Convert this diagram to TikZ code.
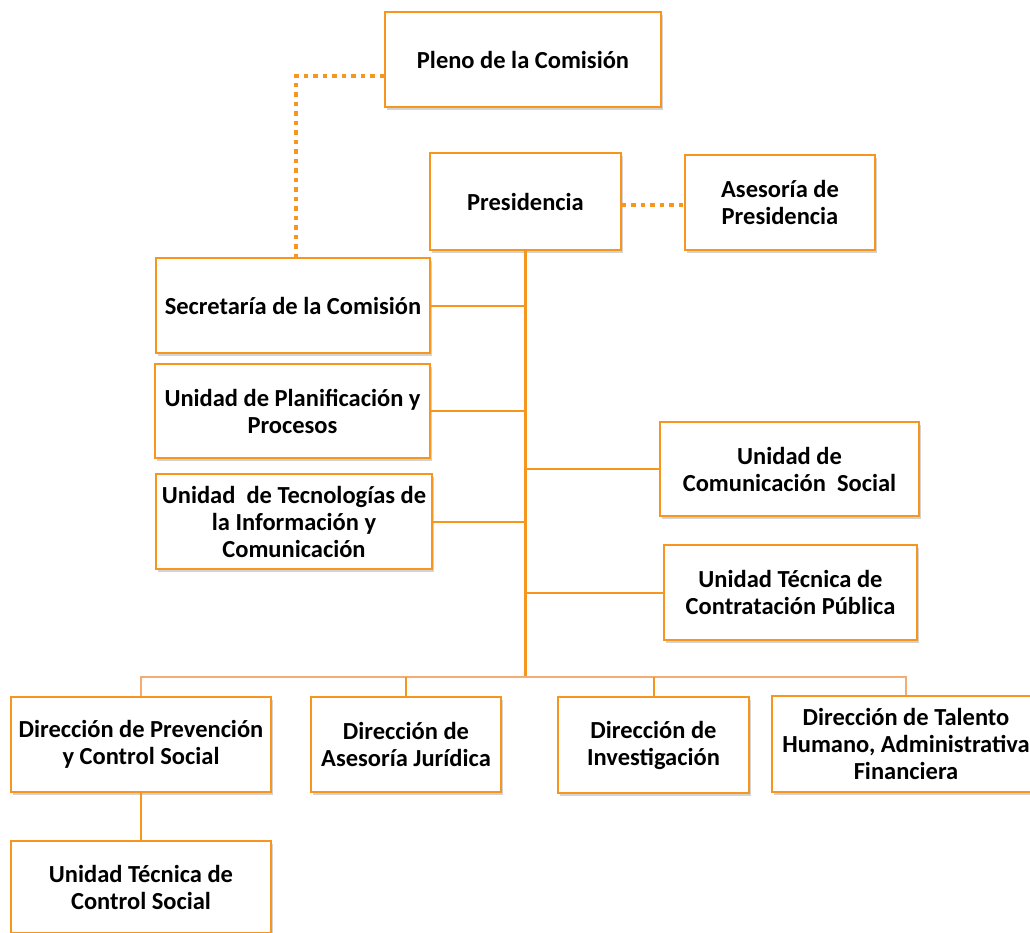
\documentclass[tikz,border=0pt]{standalone}
\usepackage{fontspec}
\setmainfont{Carlito}
\usetikzlibrary{shadows}
\definecolor{orgline}{RGB}{247,150,30}
\definecolor{orgbus}{RGB}{245,172,115}
\begin{document}
\begin{tikzpicture}[x=1pt, y=-1pt,
  unit/.style={draw=orgline, line width=1.6pt, fill=white, rectangle, align=center, inner sep=1pt,
    font=\fontsize{24.5}{27}\selectfont\bfseries,
    drop shadow={opacity=0.35, shadow xshift=2pt, shadow yshift=-2.5pt}},
  link/.style={draw=orgline, line width=2pt},
  trunk/.style={draw=orgline, line width=2.8pt},
  advice/.style={draw=orgline, line width=4pt, dash pattern=on 4.5pt off 5pt}]
  \useasboundingbox (0,0) rectangle (1030,932);

  % top of the chart
  \node[unit, minimum width=276pt, minimum height=95pt] (pleno) at (523,59.5) {Pleno de la Comisión};
  \node[unit, minimum width=191pt, minimum height=97pt] (pres) at (525.5,201.5) {Presidencia};
  \node[unit, minimum width=190pt, minimum height=95pt] (asepres) at (780,202.5) {Asesoría de\\Presidencia};

  % units beside the trunk
  \node[unit, minimum width=274pt, minimum height=95pt] (secre) at (293,305.5) {Secretaría de la Comisión};
  \node[unit, minimum width=275pt, minimum height=94pt] (plani) at (292.5,411) {Unidad de Planificación y\\Procesos};
  \node[unit, minimum width=276pt, minimum height=95pt] (tic) at (294,521.5) {Unidad\ \ de Tecnologías de\\la Información y\\Comunicación};
  \node[unit, minimum width=259pt, minimum height=94pt] (comu) at (789.5,469) {Unidad de\\Comunicación\ \ Social};
  \node[unit, minimum width=253pt, minimum height=95pt] (contra) at (790.5,592.5) {Unidad Técnica de\\Contratación Pública};

  % directions
  \node[unit, minimum width=260pt, minimum height=95pt] (prev) at (141,744.5) {Dirección de Prevención\\y Control Social};
  \node[unit, minimum width=190pt, minimum height=95pt] (juri) at (406,744.5) {Dirección de\\Asesoría Jurídica};
  \node[unit, minimum width=191pt, minimum height=96pt] (inves) at (653.5,745) {Dirección de\\Investigación};
  \node[unit, minimum width=268pt, minimum height=96pt] (talento) at (906,744) {Dirección de Talento\\Humano, Administrativa\\Financiera};
  \node[unit, minimum width=260pt, minimum height=92pt] (utcs) at (141,887) {Unidad Técnica de\\Control Social};

  \coordinate (hub) at (pres.south |- 0,677);

  \draw[advice] ([yshift=-16.5pt]pleno.west) -| ([xshift=3pt]secre.north);
  \draw[advice] ([yshift=-3.5pt]pres.east) -- ([yshift=-3.5pt]pres.east -| asepres.west);

  \draw[trunk] (pres.south) -- (hub);
  \draw[link] (secre.east) -- (secre.east -| hub);
  \draw[link] (plani.east) -- (plani.east -| hub);
  \draw[link] (tic.east) -- (tic.east -| hub);
  \draw[link] (comu.west) -- (comu.west -| hub);
  \draw[link] (contra.west) -- (contra.west -| hub);

  \draw[link, draw=orgbus] (prev.north) |- (talento.north |- hub) -- (talento.north);
  \draw[link] (juri.north) -- (juri.north |- hub);
  \draw[link] (inves.north) -- (inves.north |- hub);
  \draw[trunk] (prev.south) -- (utcs.north);
\end{tikzpicture}
\end{document}
